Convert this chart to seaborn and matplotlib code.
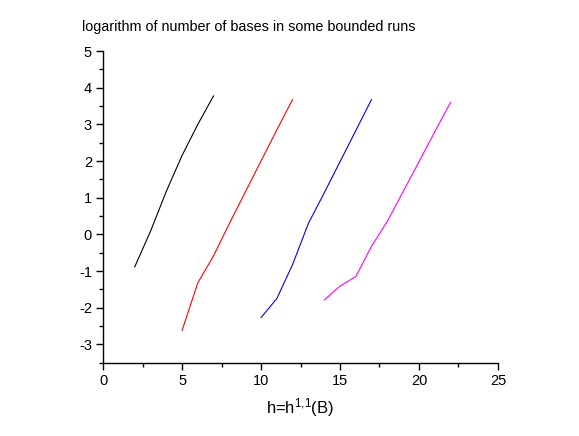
import pandas as pd
import matplotlib
matplotlib.use("Agg")
import matplotlib.pyplot as plt
import seaborn as sns
from matplotlib.ticker import MultipleLocator

# values
black_x = [2, 3, 4, 5, 6, 7]
black_y = [-0.89, 0.08, 1.17, 2.15, 3.0, 3.78]
red_x = [5, 6, 7, 8, 9, 10, 11, 12]
red_y = [-2.62, -1.32, -0.58, 0.3, 1.15, 2.0, 2.85, 3.68]
blue_x = [10, 11, 12, 13, 14, 15, 16, 17]
blue_y = [-2.27, -1.75, -0.82, 0.3, 1.13, 1.98, 2.83, 3.68]
magenta_x = [14, 15, 16, 17, 18, 19, 20, 21, 22]
magenta_y = [-1.79, -1.41, -1.15, -0.32, 0.36, 1.17, 1.98, 2.8, 3.6]

runs = ["a", "b", "c", "d"]
colors = ["black", "red", "blue", "magenta"]

df = pd.concat([
    pd.DataFrame({"h": black_x, "logn": black_y, "run": "a"}),
    pd.DataFrame({"h": red_x, "logn": red_y, "run": "b"}),
    pd.DataFrame({"h": blue_x, "logn": blue_y, "run": "c"}),
    pd.DataFrame({"h": magenta_x, "logn": magenta_y, "run": "d"}),
])

sns.set_style("ticks")
plt.rcParams["font.family"] = ["Liberation Sans", "DejaVu Sans"]
plt.rcParams["axes.unicode_minus"] = False
plt.rcParams["mathtext.fontset"] = "custom"
plt.rcParams["mathtext.rm"] = "Liberation Sans"
plt.rcParams["mathtext.default"] = "regular"
plt.rcParams["text.color"] = "black"
plt.rcParams["xtick.color"] = "black"
plt.rcParams["ytick.color"] = "black"
plt.rcParams["axes.labelcolor"] = "black"

fig = plt.figure(figsize=(5.79, 4.36), dpi=100)
ax = fig.add_axes([0.178, 0.168, 0.682, 0.715])

sns.lineplot(data=df, x="h", y="logn", hue="run", hue_order=runs,
             palette=colors, linewidth=0.8, legend=False, ax=ax)

ax.set_xlim(0, 25)
ax.set_ylim(-3.5, 5)
ax.xaxis.set_major_locator(MultipleLocator(5))
ax.xaxis.set_minor_locator(MultipleLocator(2.5))
ax.yaxis.set_major_locator(MultipleLocator(1))
ax.yaxis.set_minor_locator(MultipleLocator(0.5))
ax.tick_params(which="major", length=5, width=1, labelsize=10.5, pad=3)
ax.tick_params(which="minor", length=3, width=1)
for s in ["top", "right"]:
    ax.spines[s].set_visible(False)
for s in ["left", "bottom"]:
    ax.spines[s].set_linewidth(1)
    ax.spines[s].set_color("black")

ax.set_xlabel(r"h=h$^{1{,}1}$(B)", fontsize=12, labelpad=6)
ax.set_ylabel("")
fig.text(0.142, 0.937, "logarithm of number of bases in some bounded runs",
         fontsize=10.4, ha="left", va="center")

fig.savefig("out.png", dpi=100)
